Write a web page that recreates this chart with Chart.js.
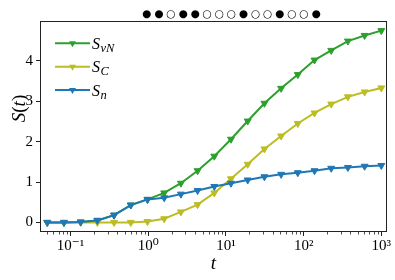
<!DOCTYPE html>
<html><head><meta charset="utf-8">
<script src="https://cdn.jsdelivr.net/npm/chart.js@4"></script>
<style>html,body{margin:0;padding:0;background:#fff}#wrap{width:395px;height:280px}</style>
</head><body><div id="wrap"><canvas id="c" width="395" height="280"></canvas></div>
<script>
// ---- data ----
const times = [0.0501,0.0822,0.1349,0.2213,0.3631,0.5957,0.977,1.603,2.630,4.315,7.079,11.61,19.05,31.26,51.29,84.14,138.0,226.5,371.5,609.5,1000];
const sVN = [0,0,0.01,0.05,0.18,0.43,0.57,0.73,0.97,1.28,1.64,2.06,2.51,2.95,3.32,3.66,4.02,4.26,4.49,4.63,4.75];
const sC  = [0,0,0,0,0,0,0.02,0.09,0.26,0.44,0.73,1.08,1.44,1.82,2.14,2.45,2.71,2.93,3.11,3.23,3.33];
const sN  = [0,0,0.01,0.05,0.18,0.43,0.57,0.61,0.70,0.79,0.89,0.97,1.05,1.13,1.19,1.23,1.28,1.34,1.36,1.39,1.41];
const seriesNames = ['S_vN','S_C','S_n'];
const legendMain = ['S','S','S'];
const legendSub = ['vN','C','n'];
const xTickValues = [0.1,1,10,100,1000];
const xTickLabels = ['10\u207B\u00B9','10\u2070','10\u00B9','10\u00B2','10\u00B3'];
const yTickValues = [0,1,2,3,4];
const yTickLabels = ['0','1','2','3','4'];
const titleDots = '\u25CF\u25CF\u25CB\u25CF\u25CF\u25CB\u25CB\u25CB\u25CF\u25CB\u25CB\u25CF\u25CB\u25CB\u25CF';
const xTitle = 't';
const yTitleParts = [['S',true],['(',false],['t',true],[')',false]];

const colors = ['#2ca02c','#bcbd22','#1f77b4'];
const SERIF = "'Liberation Serif','DejaVu Serif',serif";

function pts(arr){ return times.map((t,i)=>({x:t,y:arr[i]})); }
function ds(label, arr, color, order){
  return {label, data:pts(arr), borderColor:color, backgroundColor:color,
    pointBorderColor:color, pointBackgroundColor:color,
    borderWidth:2, pointStyle:'triangle', rotation:180, pointRadius:4,
    pointBorderWidth:1, tension:0, order};
}

const overlay = {
  id:'overlay',
  afterDraw(chart){
    const ctx = chart.ctx, ca = chart.chartArea, xs = chart.scales.x;
    ctx.save();
    // frame
    ctx.strokeStyle = '#222'; ctx.lineWidth = 1;
    ctx.strokeRect(ca.left+0.5, ca.top+0.5, ca.right-ca.left-1, ca.bottom-ca.top-1);
    // minor x ticks
    ctx.beginPath();
    for (let e=-2;e<=3;e++){
      for (let m=2;m<=9;m++){
        const v = m*Math.pow(10,e);
        if (v < xs.min || v > xs.max) continue;
        const px = Math.round(xs.getPixelForValue(v))+0.5;
        ctx.moveTo(px, ca.bottom); ctx.lineTo(px, ca.bottom+2.5);
      }
    }
    ctx.lineWidth = 0.8; ctx.stroke();
    // y title
    ctx.fillStyle = '#000';
    ctx.translate(18, 108.5); ctx.rotate(-Math.PI/2);
    let total = 0;
    const widths = yTitleParts.map(([s,it])=>{ctx.font=(it?'italic ':'')+'19px '+SERIF; const w=ctx.measureText(s).width; total+=w; return w;});
    let x = -total/2;
    ctx.textBaseline = 'alphabetic';
    yTitleParts.forEach(([s,it],i)=>{ctx.font=(it?'italic ':'')+'19px '+SERIF; ctx.fillText(s,x,6.5); x+=widths[i];});
    ctx.setTransform(1,0,0,1,0,0);
    // title dots
    ctx.font = '10.5px "DejaVu Sans"';
    ctx.textAlign = 'center'; ctx.textBaseline = 'middle';
    [...titleDots].forEach((c,i)=>{ ctx.fillText(c, 146.7 + 12.09*i, 14); });
    // legend
    ctx.textAlign = 'left'; ctx.textBaseline = 'alphabetic';
    const ly = [43.3, 66.7, 90];
    ly.forEach((y,i)=>{
      const col = colors[i];
      ctx.strokeStyle = col; ctx.lineWidth = 2;
      ctx.beginPath(); ctx.moveTo(55,y); ctx.lineTo(90,y); ctx.stroke();
      // marker (down triangle)
      const r = 4, cx = 72.5;
      ctx.fillStyle = col;
      ctx.beginPath();
      ctx.moveTo(cx, y + r);
      ctx.lineTo(cx - r*Math.sin(Math.PI/3), y - r/2);
      ctx.lineTo(cx + r*Math.sin(Math.PI/3), y - r/2);
      ctx.closePath(); ctx.fill();
      ctx.fillStyle = '#000';
      ctx.font = 'italic 16px '+SERIF;
      ctx.fillText(legendMain[i], 92, y+5.5);
      const w = ctx.measureText(legendMain[i]).width;
      ctx.font = 'italic 12.5px '+SERIF;
      ctx.fillText(legendSub[i], 92+w+0.5, y+8.5);
    });
    ctx.restore();
  }
};

new Chart(document.getElementById('c'), {
  type:'line',
  data:{ datasets:[ ds(seriesNames[0], sVN, colors[0], 3), ds(seriesNames[1], sC, colors[1], 2), ds(seriesNames[2], sN, colors[2], 1) ] },
  options:{
    responsive:false, animation:false, devicePixelRatio:1,
    layout:{ padding:{ top:21, right:8, left:0, bottom:0 } },
    plugins:{ legend:{display:false}, title:{display:false}, tooltip:{enabled:false} },
    scales:{
      x:{ type:'logarithmic', min:0.0404, max:1183,
        afterBuildTicks(s){ s.ticks = xTickValues.map(v=>({value:v, major:true})); },
        afterFit(s){ s.height = 48; },
        ticks:{ callback:(v,i)=>xTickLabels[i], autoSkip:false, maxRotation:0, minRotation:0,
          font:{family:SERIF, size:15}, color:'#000', padding:1 },
        grid:{ display:true, drawOnChartArea:false, drawTicks:true, tickLength:4, tickColor:'#222', tickWidth:1 },
        border:{ display:false },
        title:{ display:true, text:xTitle, color:'#000', font:{family:SERIF, style:'italic', size:19}, padding:{top:0,bottom:5} }
      },
      y:{ type:'linear', min:-0.2375, max:4.9875,
        afterBuildTicks(s){ s.ticks = yTickValues.map(v=>({value:v})); },
        afterFit(s){ s.width = 40; },
        ticks:{ callback:(v,i)=>yTickLabels[i], font:{family:SERIF, size:15}, color:'#000', padding:3 },
        grid:{ display:true, drawOnChartArea:false, drawTicks:true, tickLength:4, tickColor:'#222', tickWidth:1 },
        border:{ display:false }
      }
    }
  },
  plugins:[overlay]
});
</script></body></html>
